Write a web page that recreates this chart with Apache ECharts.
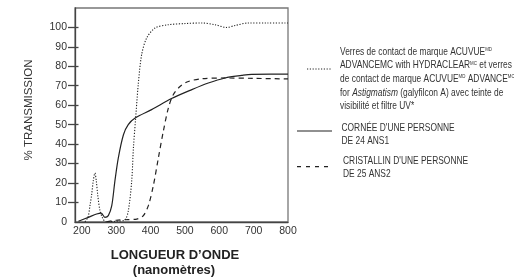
<!DOCTYPE html>
<html>
<head>
<meta charset="utf-8">
<script src="https://cdn.jsdelivr.net/npm/echarts@6/dist/echarts.min.js"></script>
<style>html,body{margin:0;padding:0;background:#fff}#c{width:514px;height:278px}</style>
</head>
<body>
<div id="c"></div>
<script>
// Data
var yTickLabels = [0, 10, 20, 30, 40, 50, 60, 70, 80, 90, 100];
var xTickLabels = [200, 300, 400, 500, 600, 700, 800];

var lensNm = [209, 218, 224, 228.5, 233, 238, 242, 246, 253, 262.5, 272, 300, 325, 335, 345, 350, 356.6, 364, 374, 388.6, 413, 452, 500, 549, 587.6, 621.5, 646, 684.6, 740, 800];
var lensT  = [0, 2.5, 8.8, 14, 20.8, 25.1, 21, 14, 5.5, 1.2, 0, 0.3, 1, 5.5, 20.8, 38, 53.4, 70.5, 86, 94.5, 99.7, 101.4, 102, 102.3, 101.4, 100, 101, 102.3, 102.3, 102.3];

var corneaNm = [190, 219, 243, 256, 267, 277, 287, 296, 306, 321, 335, 355, 403, 461, 520, 568, 617, 665, 694, 750, 800];
var corneaT  = [0.3, 2.3, 4.0, 4.5, 2.3, 3.2, 8.3, 20.8, 32.8, 44.8, 50, 53.4, 57.7, 63.4, 68, 71.4, 74, 75.3, 75.9, 76, 76];

var crystNm = [272, 300, 330, 360, 379, 393.5, 408, 422.6, 437, 451.7, 466, 485.7, 510, 549, 617, 700, 800];
var crystT  = [0, 0.8, 1.1, 1.4, 3.2, 8.3, 18.6, 32.8, 46.5, 58.5, 65.4, 69.6, 72.2, 73.6, 74, 73.8, 73.5];

function pairs(xs, ys) { return xs.map(function (x, i) { return [x, ys[i]]; }); }

var sans = '"Liberation Sans", Arial, Helvetica, sans-serif';
var txtCol = '#333';
var legFs = 10.5;
var richLeg = {
  sup: { fontSize: 5.5, fontFamily: sans, color: txtCol, verticalAlign: 'top', padding: [0, 0, 4, 0] },
  i: { fontStyle: 'italic', fontSize: legFs, fontFamily: sans, color: txtCol }
};

function legText(x, y, str) {
  return {
    type: 'text', x: x, y: y, scaleX: 0.8, scaleY: 1,
    style: { text: str, font: legFs + 'px ' + sans, fill: txtCol, rich: richLeg, verticalAlign: 'middle', align: 'left' }
  };
}

var chart = echarts.init(document.getElementById('c'), null, { renderer: 'canvas' });
chart.setOption({
  animation: false,
  backgroundColor: '#fff',
  grid: { left: 75, top: 8, width: 213, height: 213.8, show: true, borderColor: '#777', borderWidth: 1.3, backgroundColor: 'transparent' },
  xAxis: {
    type: 'value', min: 180, max: 800,
    axisLine: { show: true, lineStyle: { color: '#444', width: 1.3 } },
    axisTick: { show: false },
    splitLine: { show: false },
    axisLabel: { customValues: xTickLabels, color: txtCol, fontSize: 10.5, fontFamily: sans, margin: 4 }
  },
  yAxis: [{
    type: 'value', min: 0, max: 110,
    axisLine: { show: true, lineStyle: { color: '#444', width: 1.3 } },
    axisTick: { show: true, customValues: yTickLabels.slice(1), length: 7, lineStyle: { color: '#444', width: 1.3 } },
    splitLine: { show: false },
    axisLabel: { customValues: yTickLabels, color: txtCol, fontSize: 10.5, fontFamily: sans, margin: 8 }
  }, {
    type: 'value', min: 0, max: 110, position: 'left',
    axisLine: { show: false },
    axisTick: { show: true, inside: true, customValues: yTickLabels.slice(1), length: 3.5, lineStyle: { color: '#444', width: 1.3 } },
    splitLine: { show: false },
    axisLabel: { show: false }
  }],
  series: [
    { type: 'line', data: pairs(lensNm, lensT), smooth: 0.3, symbol: 'none',
      lineStyle: { color: '#222', width: 1.1, type: [1.2, 1.6] } },
    { type: 'line', data: pairs(corneaNm, corneaT), smooth: 0.3, symbol: 'none',
      lineStyle: { color: '#222', width: 1.2, type: 'solid' } },
    { type: 'line', data: pairs(crystNm, crystT), smooth: 0.3, symbol: 'none',
      lineStyle: { color: '#222', width: 1.2, type: [5, 4] } }
  ],
  graphic: [
    { type: 'text', x: 29, y: 110, rotation: Math.PI / 2,
      style: { text: '% TRANSMISSION', font: '11.5px ' + sans, fill: txtCol, align: 'center', verticalAlign: 'middle' } },
    { type: 'text', x: 175, y: 255,
      style: { text: 'LONGUEUR D’ONDE', font: 'bold 13px ' + sans, fill: '#222', align: 'center', verticalAlign: 'middle' } },
    { type: 'text', x: 174, y: 270,
      style: { text: '(nanomètres)', font: 'bold 13px ' + sans, fill: '#222', align: 'center', verticalAlign: 'middle' } },

    { type: 'line', shape: { x1: 307, y1: 69, x2: 331, y2: 69 }, style: { stroke: '#222', lineWidth: 1, lineDash: [1.2, 1.6] } },
    legText(340, 51.7, 'Verres de contact de marque ACUVUE{sup|MD}'),
    legText(340, 65.5, 'ADVANCEMC with HYDRACLEAR{sup|MC} et verres'),
    legText(340, 79.3, 'de contact de marque ACUVUE{sup|MD} ADVANCE{sup|MC}'),
    legText(340, 93, 'for {i|Astigmatism} (galyfilcon A) avec teinte de'),
    legText(340, 106.5, 'visibilité et filtre UV*'),

    { type: 'line', shape: { x1: 297, y1: 131, x2: 332, y2: 131 }, style: { stroke: '#222', lineWidth: 1.2 } },
    legText(341.5, 127.7, 'CORNÉE D\'UNE PERSONNE'),
    legText(341.5, 141, 'DE 24 ANS1'),

    { type: 'line', shape: { x1: 297, y1: 166.7, x2: 329, y2: 166.7 }, style: { stroke: '#222', lineWidth: 1.2, lineDash: [4, 5] } },
    legText(343, 161, 'CRISTALLIN D\'UNE PERSONNE'),
    legText(343, 174.3, 'DE 25 ANS2')
  ]
});
</script>
</body>
</html>
